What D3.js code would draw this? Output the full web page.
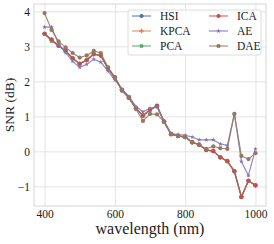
<!DOCTYPE html>
<html>
<head>
<meta charset="utf-8">
<script src="https://cdn.jsdelivr.net/npm/d3@7"></script>
<style>
  body { margin: 0; background: #fff; }
  text { font-family: "Liberation Serif", "DejaVu Serif", serif; fill: #222; }
</style>
</head>
<body>
<script>
// Width and height of the figure
var width = 274;
var height = 244;
var margin = {top: 4, right: 8, bottom: 38, left: 34};

// wavelength samples (nm)
var wavelengths = [400, 420, 440, 460, 480, 500, 520, 540, 560, 580, 600,
                   620, 640, 660, 680, 700, 720, 740, 760, 780, 800,
                   820, 840, 860, 880, 900, 920, 940, 960, 980, 1000];

// SNR (dB) per method
var hsi  = [3.36, 3.19, 3.02, 2.87, 2.66, 2.50, 2.61, 2.78, 2.74, 2.38, 2.11,
            1.76, 1.54, 1.23, 1.02, 1.19, 1.30, 0.85, 0.49, 0.44, 0.41,
            0.26, 0.19, 0.04, 0.01, -0.17, -0.28, -0.57, -1.30, -0.84, -0.97];
var kpca = [3.36, 3.19, 3.02, 2.87, 2.66, 2.50, 2.61, 2.78, 2.74, 2.38, 2.11,
            1.76, 1.54, 1.23, 1.02, 1.19, 1.30, 0.85, 0.49, 0.44, 0.41,
            0.26, 0.19, 0.04, 0.01, -0.17, -0.28, -0.57, -1.30, -0.84, -0.97];
var pca  = [3.36, 3.15, 3.02, 2.87, 2.66, 2.50, 2.61, 2.78, 2.74, 2.38, 2.11,
            1.76, 1.54, 1.23, 1.02, 1.19, 1.30, 0.85, 0.49, 0.44, 0.41,
            0.26, 0.19, 0.04, 0.01, -0.17, -0.28, -0.57, -1.30, -0.84, -0.97];
var ica  = [3.36, 3.19, 3.02, 2.87, 2.66, 2.50, 2.61, 2.78, 2.74, 2.38, 2.11,
            1.76, 1.54, 1.23, 1.02, 1.19, 1.30, 0.85, 0.49, 0.44, 0.41,
            0.26, 0.19, 0.04, 0.01, -0.17, -0.28, -0.57, -1.30, -0.84, -0.97];
var ae   = [3.55, 3.55, 3.06, 2.82, 2.57, 2.40, 2.49, 2.63, 2.55, 2.30, 2.04,
            1.78, 1.57, 1.28, 1.13, 1.23, 1.26, 0.86, 0.51, 0.48, 0.46,
            0.41, 0.33, 0.33, 0.33, 0.21, 0.17, 1.07, -0.29, -0.69, 0.07];
var dae  = [3.95, 3.47, 3.14, 2.97, 2.81, 2.68, 2.74, 2.87, 2.81, 2.41, 2.12,
            1.73, 1.52, 1.21, 0.87, 1.07, 1.06, 0.85, 0.49, 0.44, 0.41,
            0.26, 0.19, 0.07, 0.14, 0.09, 0.07, 1.07, -0.13, -0.22, -0.05];

var seriesNames = ["HSI", "KPCA", "PCA", "ICA", "AE", "DAE"];
var seriesValues = [hsi, kpca, pca, ica, ae, dae];
var colors = ["#4c72b0", "#dd8452", "#55a868", "#c44e52", "#8172b3", "#937860"];
var symbols = [d3.symbolCircle, d3.symbolCross, d3.symbolSquare, d3.symbolCircle, d3.symbolStar, d3.symbolCircle];
var symbolSizes = [14, 12, 12, 14, 7, 14];

var xTicks = [400, 600, 800, 1000];
var yTicks = [-1, 0, 1, 2, 3, 4];

var svg = d3.select("body")
            .append("svg")
            .attr("width", width)
            .attr("height", height);

var x = d3.scaleLinear()
          .domain([370, 1030])
          .range([margin.left, width - margin.right]);
var y = d3.scaleLinear()
          .domain([-1.56, 4.21])
          .range([height - margin.bottom, margin.top]);

// grid lines
svg.append("g")
   .attr("transform", "translate(0," + (height - margin.bottom) + ")")
   .call(d3.axisBottom(x).tickValues(xTicks).tickSize(-(height - margin.bottom - margin.top)).tickFormat(d3.format("d")).tickPadding(4))
   .call(function(g) {
     g.select(".domain").remove();
     g.selectAll("line").attr("stroke", "#e3e3e3");
     g.selectAll("text").attr("font-size", 11.5).attr("fill", "#222");
   });

svg.append("g")
   .attr("transform", "translate(" + margin.left + ",0)")
   .call(d3.axisLeft(y).tickValues(yTicks).tickSize(-(width - margin.left - margin.right)).tickFormat(function(d) { return d < 0 ? "\u2212" + Math.abs(d) : d; }).tickPadding(4))
   .call(function(g) {
     g.select(".domain").remove();
     g.selectAll("line").attr("stroke", "#e3e3e3");
     g.selectAll("text").attr("font-size", 11.5).attr("fill", "#222");
   });

// plot frame
svg.append("rect")
   .attr("x", margin.left)
   .attr("y", margin.top)
   .attr("width", width - margin.left - margin.right)
   .attr("height", height - margin.top - margin.bottom)
   .attr("fill", "none")
   .attr("stroke", "#d6d6d6");

var line = d3.line()
             .x(function(d, i) { return x(wavelengths[i]); })
             .y(function(d) { return y(d); });

seriesValues.forEach(function(vals, k) {
  svg.append("path")
     .datum(vals)
     .attr("d", line)
     .attr("fill", "none")
     .attr("stroke", colors[k])
     .attr("stroke-opacity", 0.85)
     .attr("stroke-width", 1.2);
  svg.selectAll(".m" + k)
     .data(vals)
     .enter()
     .append("path")
     .attr("class", "m" + k)
     .attr("transform", function(d, i) { return "translate(" + x(wavelengths[i]) + "," + y(d) + ")"; })
     .attr("d", d3.symbol().type(symbols[k]).size(symbolSizes[k]))
     .attr("fill", colors[k]);
});

// legend
var legend = svg.append("g");
legend.append("rect")
      .attr("x", 128).attr("y", 10)
      .attr("width", 133).attr("height", 45)
      .attr("rx", 2)
      .attr("fill", "#fff").attr("fill-opacity", 0.85)
      .attr("stroke", "#dcdcdc");

seriesNames.forEach(function(name, k) {
  var col = Math.floor(k / 3), row = k % 3;
  var lx = 132 + col * 77, ly = 16 + row * 15;
  legend.append("line")
        .attr("x1", lx).attr("x2", lx + 19)
        .attr("y1", ly).attr("y2", ly)
        .attr("stroke", colors[k]).attr("stroke-opacity", 0.7).attr("stroke-width", 1.4);
  legend.append("path")
        .attr("transform", "translate(" + (lx + 9.5) + "," + ly + ")")
        .attr("d", d3.symbol().type(symbols[k]).size(symbolSizes[k]))
        .attr("fill", colors[k]);
  legend.append("text")
        .attr("x", lx + 28).attr("y", ly + 4)
        .attr("font-size", 11.5)
        .text(name);
});

// axis titles
svg.append("text")
   .attr("x", (margin.left + width - margin.right) / 2)
   .attr("y", 234)
   .attr("text-anchor", "middle")
   .attr("font-size", 16)
   .text("wavelength (nm)");

svg.append("text")
   .attr("transform", "translate(14," + ((margin.top + height - margin.bottom) / 2) + ") rotate(-90)")
   .attr("text-anchor", "middle")
   .attr("font-size", 13.5)
   .text("SNR (dB)");
</script>
</body>
</html>
